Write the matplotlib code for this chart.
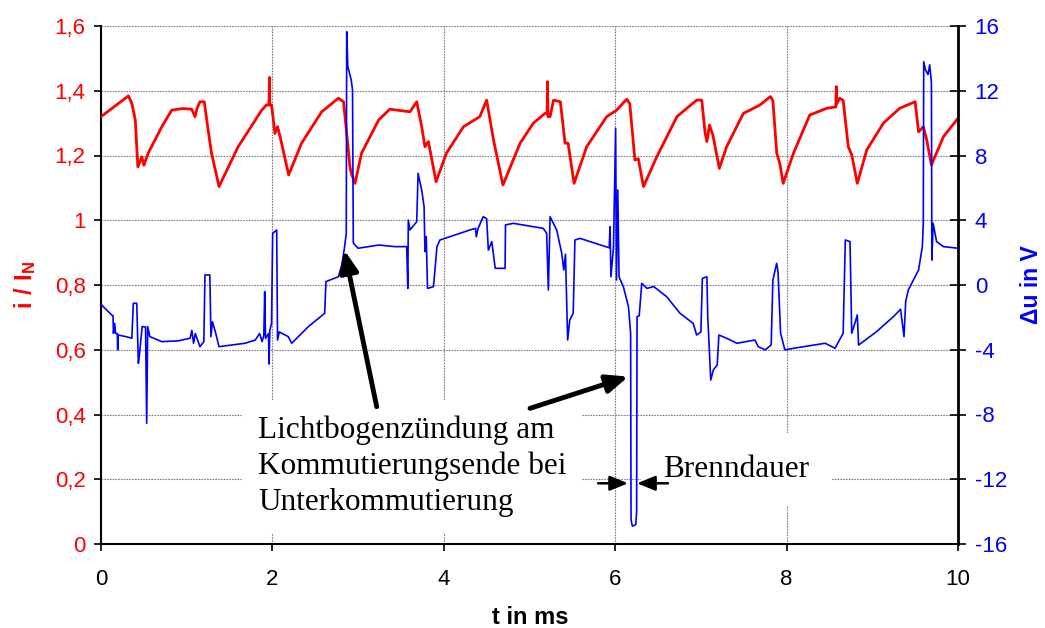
import matplotlib
matplotlib.use("Agg")
import matplotlib.pyplot as plt
from matplotlib.ticker import FuncFormatter

plt.rcParams['font.family'] = ['Liberation Sans', 'DejaVu Sans']
plt.rcParams['mathtext.fontset'] = 'custom'
plt.rcParams['mathtext.bf'] = 'Liberation Sans:bold'
plt.rcParams['mathtext.rm'] = 'Liberation Sans'
plt.rcParams['axes.unicode_minus'] = False

# ---- data: current i/IN (left axis) ----
t_i = [0.00, 0.10, 0.20, 0.32, 0.36, 0.40, 0.43, 0.475, 0.50, 0.55, 0.71, 0.825, 0.95, 1.058,
       1.097, 1.12, 1.155, 1.205, 1.25, 1.29, 1.377, 1.60, 1.875, 1.93, 1.96, 1.965, 1.97,
       1.99, 2.03, 2.06, 2.09, 2.19, 2.34, 2.575, 2.77, 2.83, 2.855, 2.905, 2.92, 2.964,
       3.04, 3.24, 3.37, 3.605, 3.684, 3.742, 3.78, 3.82, 3.91, 4.03, 4.23, 4.42, 4.50,
       4.58, 4.69, 4.89, 5.045, 5.18, 5.205, 5.21, 5.215, 5.24, 5.28, 5.36, 5.415, 5.45,
       5.52, 5.667, 5.90, 6.017, 6.134, 6.17, 6.23, 6.27, 6.33, 6.485, 6.72, 6.95, 7.01,
       7.05, 7.07, 7.10, 7.14, 7.215, 7.30, 7.495, 7.69, 7.81, 7.84, 7.885, 7.92, 7.96,
       8.08, 8.27, 8.47, 8.575, 8.58, 8.585, 8.62, 8.66, 8.72, 8.76, 8.825, 8.935, 9.13,
       9.32, 9.50, 9.54, 9.595, 9.635, 9.69, 9.83, 10.0]
i_val = [1.32, 1.34, 1.36, 1.384, 1.361, 1.31, 1.165, 1.196, 1.17, 1.207, 1.289, 1.340, 1.345, 1.343,
         1.32, 1.345, 1.366, 1.366, 1.279, 1.207, 1.104, 1.227, 1.340, 1.356, 1.356, 1.441, 1.356,
         1.356, 1.268, 1.289, 1.258, 1.140, 1.238, 1.335, 1.377, 1.366, 1.300, 1.165, 1.145, 1.114,
         1.207, 1.31, 1.343, 1.335, 1.366, 1.289, 1.227, 1.243, 1.119, 1.207, 1.289, 1.32, 1.371,
         1.248, 1.109, 1.238, 1.30, 1.330, 1.33, 1.428, 1.32, 1.32, 1.371, 1.366, 1.238, 1.238,
         1.114, 1.227, 1.32, 1.340, 1.374, 1.36, 1.186, 1.19, 1.104, 1.196, 1.32, 1.371, 1.371,
         1.268, 1.243, 1.294, 1.263, 1.160, 1.227, 1.330, 1.356, 1.382, 1.37, 1.207, 1.176, 1.114,
         1.207, 1.325, 1.346, 1.35, 1.413, 1.36, 1.377, 1.37, 1.227, 1.202, 1.114, 1.217, 1.30,
         1.346, 1.366, 1.273, 1.289, 1.248, 1.171, 1.258, 1.315]

# ---- data: voltage delta u in V (right axis) ----
t_u = [0.00, 0.027, 0.125, 0.14, 0.145, 0.16, 0.17, 0.19, 0.195, 0.20, 0.30, 0.36, 0.377, 0.417,
       0.436, 0.45, 0.48, 0.52, 0.533, 0.545, 0.57, 0.71, 0.90, 1.04, 1.06, 1.08, 1.10, 1.155,
       1.20, 1.213, 1.27, 1.283, 1.30, 1.335, 1.377, 1.68, 1.80, 1.85, 1.88, 1.90, 1.91, 1.92,
       1.955, 1.96, 1.97, 1.99, 2.003, 2.05, 2.06, 2.08, 2.185, 2.225, 2.42, 2.61, 2.625, 2.77,
       2.81, 2.84, 2.862, 2.867, 2.88, 2.92, 2.935, 2.944, 2.964, 3.00, 3.24, 3.43, 3.567, 3.58,
       3.586, 3.605, 3.684, 3.70, 3.742, 3.77, 3.78, 3.795, 3.81, 3.88, 3.92, 3.955, 4.305,
       4.37, 4.38, 4.40, 4.46, 4.50, 4.52, 4.56, 4.60, 4.715, 4.72, 4.81, 5.16, 5.20, 5.22,
       5.24, 5.317, 5.376, 5.40, 5.42, 5.445, 5.47, 5.51, 5.53, 5.59, 5.93, 5.94, 5.95, 5.98,
       6.005, 6.015, 6.03, 6.045, 6.095, 6.155, 6.18, 6.185, 6.20, 6.24, 6.25, 6.255, 6.28,
       6.31, 6.37, 6.45, 6.60, 6.756, 6.91, 6.95, 7.00, 7.017, 7.07, 7.08, 7.115, 7.145, 7.19,
       7.21, 7.30, 7.42, 7.63, 7.67, 7.75, 7.82, 7.84, 7.884, 7.90, 7.93, 7.98, 8.08, 8.45,
       8.565, 8.66, 8.685, 8.74, 8.76, 8.80, 8.825, 8.84, 9.05, 9.245, 9.33, 9.37, 9.39, 9.42,
       9.48, 9.54, 9.584, 9.595, 9.60, 9.62, 9.65, 9.67, 9.69, 9.695, 9.71, 9.75, 9.83, 10.0]
u_val = [-1.2, -1.34, -1.85, -1.9, -2.98, -2.37, -3.0, -3.0, -4.0, -3.09, -3.2, -3.29, -1.13, -1.13,
         -4.84, -4.22, -2.57, -2.6, -8.54, -2.57, -3.19, -3.50, -3.45, -3.29, -2.8, -3.6, -3.0, -3.81,
         -3.5, 0.62, 0.62, -3.19, -2.27, -2.9, -3.81, -3.60, -3.40, -3.0, -3.5, -3.1, -0.41, -3.3,
         -3.0, -4.88, -2.8, -2.37, 3.19, 3.40, -3.40, -2.9, -3.19, -3.60, -2.57, -1.75, 0.21, 0.51,
         1.24, 2.27, 3.19, 15.65, 13.5, 12.66, 12.04, 2.6, 2.47, 2.27, 2.47, 2.37, 2.37, -0.21,
         4.01, 3.40, 3.91, 6.90, 5.87, 4.84, 2.06, 3.0, -0.21, -0.10, 2.37, 2.78, 3.40,
         3.5, 2.98, 3.5, 4.22, 4.1, 2.16, 2.68, 1.03, 1.03, 3.71, 3.81, 3.50, 3.2, -0.31,
         4.22, 3.40, 1.96, 0.93, 1.9, -3.40, -2.16, -1.75, 2.78, 2.88, 2.3, 3.60, 0.51, 2.3,
         9.68, 0.31, 5.87, 0.5, -0.10, -1.34, -3.0, -14.5, -14.9, -14.8, -14.0, -1.96, -1.9,
         0.10, -0.21, -0.10, -0.72, -1.75, -2.37, -3.09, -2.9, 0.41, 0.51, -1.96, -5.87, -5.25, -4.94,
         -3.09, -3.29, -3.60, -3.40, -3.81, -4.01, -3.7, 0.31, 1.34, 0.8, -2.98, -4.01, -3.91, -3.60,
         -3.91, -2.98, 2.78, 2.68, -2.98, -2.3, -1.85, -3.71, -2.88, -1.96, -1.5, -3.19, -1.0, -0.31,
         0.31, 0.93, 2.37, 3.81, 13.8, 13.3, 13.0, 13.6, 12.5, 1.54, 3.81, 2.68, 2.37, 2.27]

x_ticks = [0, 2, 4, 6, 8, 10]
i_ticks = [0, 0.2, 0.4, 0.6, 0.8, 1.0, 1.2, 1.4, 1.6]
u_ticks = [-16, -12, -8, -4, 0, 4, 8, 12, 16]

text_arc = "Lichtbogenzündung am\nKommutierungsende bei\nUnterkommutierung"
text_burn = "Brenndauer"

fig = plt.figure(figsize=(10.45, 6.28), dpi=100)
ax = fig.add_axes([101/1045, 1-544/628, 857/1045, 518/628])
ax2 = ax.twinx()

ax.plot(t_i, i_val, color='#FF0000', lw=2.0, zorder=3)
ax2.plot(t_u, u_val, color='#0000FF', lw=1.2, zorder=3)

ax.set_xlim(0, 10)
ax.set_ylim(0, 1.6)
ax2.set_ylim(-16, 16)
ax.set_xticks(x_ticks)
ax.set_yticks(i_ticks)
ax2.set_yticks(u_ticks)

fmt = FuncFormatter(lambda v, p: ('%g' % round(v, 3)).replace('.', ','))
ax.yaxis.set_major_formatter(fmt)
ax.xaxis.set_major_formatter(FuncFormatter(lambda v, p: '%g' % v))
ax2.yaxis.set_major_formatter(FuncFormatter(lambda v, p: '%g' % v))

ax.grid(True, color='#7f7f7f', linestyle=(0, (1.5, 1.0)), linewidth=0.8, zorder=0)
ax.set_axisbelow(True)

ax.spines['top'].set_visible(False)
ax2.spines['top'].set_visible(False)
ax.spines['right'].set_visible(False)
ax2.spines['left'].set_visible(False)
ax2.spines['bottom'].set_visible(False)
ax.spines['left'].set_linewidth(1.5)
ax.spines['bottom'].set_linewidth(1.5)
ax2.spines['right'].set_linewidth(2.0)

ax.tick_params(axis='y', colors='black', labelcolor='#FF0000', labelsize=16, direction='out',
               length=5, width=1.2, pad=6)
ax.tick_params(axis='x', colors='black', labelsize=16, direction='out', length=5, width=1.2, pad=13)
ax2.tick_params(axis='y', colors='black', labelcolor='#0000FF', labelsize=16, direction='inout',
                length=12, width=1.2, pad=6)

fig.text(25/1045, 1-285/628, r'$\mathbf{i\ /\ I_N}$', color='#FF0000', fontsize=17,
         rotation=90, ha='center', va='center')
fig.text(1031/1045, 1-285/628, 'Δu in V', color='#0000FF', fontsize=16.5, fontweight='bold',
         rotation=90, ha='center', va='center')
fig.text(530/1045, 1-617/628, 't in ms', color='black', fontsize=17, fontweight='bold',
         ha='center', va='center')

serif = ['Liberation Serif', 'DejaVu Serif']
ax2.text(1.832, -11.2, text_arc, family=serif, fontsize=22.5, ha='left', va='center',
         linespacing=1.3, zorder=2,
         bbox=dict(boxstyle='square,pad=0.5', facecolor='white', edgecolor='none'))
ax2.text(6.558, -11.4, text_burn, family=serif, fontsize=22.5, ha='left', va='center', zorder=2,
         bbox=dict(boxstyle='square,pad=0.7', facecolor='white', edgecolor='none'))

big = dict(arrowstyle='-|>,head_length=1.3,head_width=0.55', lw=3.5, color='black',
           shrinkA=0, shrinkB=0)
ax2.annotate('', xy=(2.839, 2.16), xytext=(3.217, -7.52), arrowprops=big, zorder=5)
ax2.annotate('', xy=(6.153, -5.66), xytext=(5.006, -7.62), arrowprops=big, zorder=5)
small = dict(arrowstyle='-|>,head_length=1.1,head_width=0.45', lw=1.8, color='black',
             shrinkA=0, shrinkB=0)
ax2.annotate('', xy=(6.15, -12.25), xytext=(5.80, -12.25), arrowprops=small, zorder=5)
ax2.annotate('', xy=(6.255, -12.25), xytext=(6.616, -12.25), arrowprops=small, zorder=5)

fig.savefig('out.png', dpi=100)
